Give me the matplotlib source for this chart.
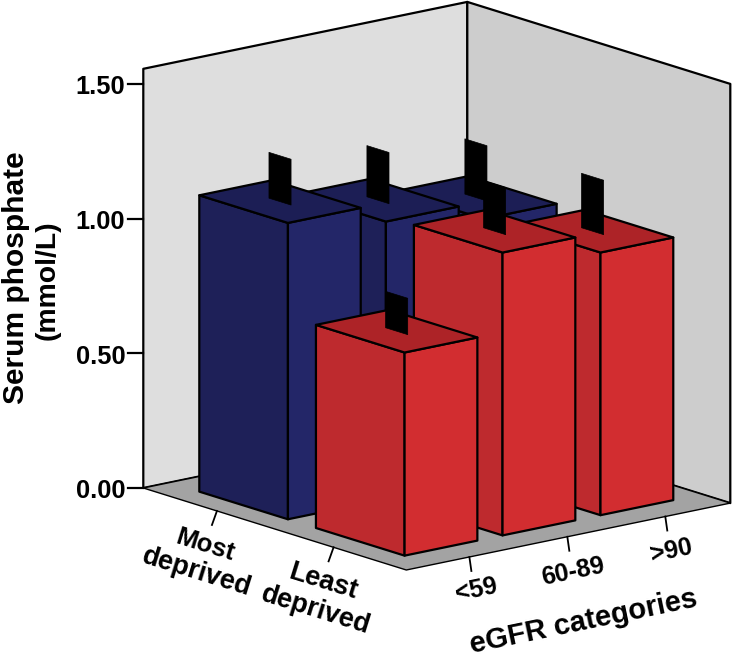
import numpy as np
import matplotlib.pyplot as plt

deprivation = ['Most\ndeprived', 'Least\ndeprived']
egfr = ['<59', '60-89', '>90']
y_ticks = [0.0, 0.5, 1.0, 1.5]

# mean and top of the error bar, one list per egfr category
most_mean = [1.10, 1.03, 0.965]
most_upper = [1.27, 1.22, 1.17]
least_mean = [0.754, 1.05, 0.975]
least_upper = [0.889, 1.225, 1.177]

plt.rcParams['font.family'] = ['Liberation Sans', 'DejaVu Sans']

D_POS = [0.56, 1.447]
E_POS = [0.584, 1.491, 2.398]
HALF_D = 0.337
HALF_E = 0.337
FLAG = 0.084
D_MAX, E_MAX, Z_MAX = 2.0, 3.0, 1.556

BLUE = ['#1e2058', '#232668', '#1c1e55']
RED = ['#be2a2e', '#d22d30', '#ad2327']


def proj(d, e, z=0.0):
    x = 143.3 + 131.5 * d + 108.0 * e
    y = 488.0 + 41.0 * d - 22.3 * e - 269.4 * z
    return x, y


def face(ax, pts, color, lw=1.6, zorder=2):
    ax.fill([p[0] for p in pts], [p[1] for p in pts], facecolor=color,
            edgecolor='black', linewidth=lw, joinstyle='round', zorder=zorder)


def bar(ax, d, e, mean, upper, colors):
    d0, d1 = d - HALF_D, d + HALF_D
    e0, e1 = e - HALF_E, e + HALF_E
    face(ax, [proj(d0, e0), proj(d1, e0), proj(d1, e0, mean), proj(d0, e0, mean)], colors[0])
    face(ax, [proj(d1, e0), proj(d1, e1), proj(d1, e1, mean), proj(d1, e0, mean)], colors[1])
    face(ax, [proj(d0, e0, mean), proj(d1, e0, mean), proj(d1, e1, mean), proj(d0, e1, mean)], colors[2])
    # error bars are flat black flags standing on the top face
    face(ax, [proj(d - FLAG, e, mean), proj(d + FLAG, e, mean),
              proj(d + FLAG, e, upper), proj(d - FLAG, e, upper)], 'black', lw=0.5)


fig = plt.figure(figsize=(7.32, 6.59), dpi=100)
ax = fig.add_axes([0, 0, 1, 1])
ax.set_xlim(0, 732)
ax.set_ylim(659, 0)
ax.axis('off')

# walls and floor
face(ax, [proj(0, 0), proj(0, E_MAX), proj(0, E_MAX, Z_MAX), proj(0, 0, Z_MAX)], '#dedede')
face(ax, [proj(0, E_MAX), proj(D_MAX, E_MAX), proj(D_MAX, E_MAX, Z_MAX), proj(0, E_MAX, Z_MAX)], '#cdcdcd')
face(ax, [proj(0, 0), proj(D_MAX, 0), proj(D_MAX, E_MAX), proj(0, E_MAX)], '#a3a3a3', lw=1.0)

# back row first, then right to left, so nearer bars cover the others
for i in [2, 1, 0]:
    bar(ax, D_POS[0], E_POS[i], most_mean[i], most_upper[i], BLUE)
for i in [2, 1, 0]:
    bar(ax, D_POS[1], E_POS[i], least_mean[i], least_upper[i], RED)

# value axis
for v in y_ticks:
    x, y = proj(0, 0, v)
    ax.plot([x - 15, x], [y, y], color='black', lw=1.6, zorder=3)
    ax.text(x - 18, y + 3.5, '%.2f' % v, ha='right', va='center', fontsize=18.3, fontweight='bold')

ax.text(16, 278, 'Serum phosphate', rotation=90, ha='center', va='center', fontsize=21.5, fontweight='bold')
ax.text(48, 280, '(mmol/L)', rotation=90, ha='center', va='center', fontsize=20.4, fontweight='bold')

# floor ticks
for d in D_POS:
    x, y = proj(d, 0)
    ax.plot([x, x - 5], [y, y + 14], color='black', lw=1.3, zorder=3)
for e in E_POS:
    x, y = proj(D_MAX, e)
    ax.plot([x, x + 2], [y, y + 14], color='black', lw=1.3, zorder=3)

# slanted category labels
top_lines = [(205, 545), (323, 582)]
low_lines = [(197, 572), (316, 610)]
for i, lab in enumerate(deprivation):
    first, second = lab.split('\n')
    ax.text(*top_lines[i], first, rotation=-17.3, rotation_mode='anchor', ha='center', va='center',
            fontsize=18.5 + i, fontweight='bold')
    ax.text(*low_lines[i], second, rotation=-17.3, rotation_mode='anchor', ha='center', va='center',
            fontsize=19.5, fontweight='bold')

e_lines = [(476, 590), (573, 572), (671, 551)]
for i, lab in enumerate(egfr):
    ax.text(*e_lines[i], lab, rotation=11.7, rotation_mode='anchor', ha='center', va='center',
            fontsize=18, fontweight='bold')

ax.text(584, 622, 'eGFR categories', rotation=11.7, rotation_mode='anchor', ha='center', va='center',
        fontsize=21, fontweight='bold')

fig.savefig('out.png', dpi=100)
